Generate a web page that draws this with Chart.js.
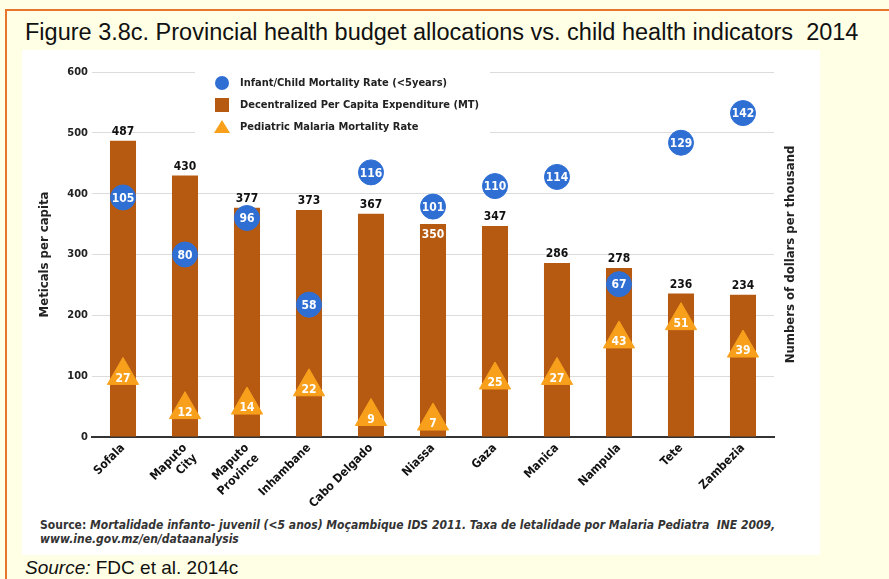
<!DOCTYPE html>
<html>
<head>
<meta charset="utf-8">
<script src="https://cdn.jsdelivr.net/npm/chart.js@4.4.1/dist/chart.umd.min.js"></script>
<style>
  html, body { margin: 0; padding: 0; width: 889px; height: 579px; overflow: hidden; background: #ffffe6; }
  #frame {
    position: absolute; left: 5px; top: 9px; right: -20px; bottom: -20px;
    border-left: 2px solid #e8762a; border-top: 2px solid #e8762a;
    background: #ffffe6;
  }
  #title {
    position: absolute; left: 25px; top: 19px;
    font: 23.5px 'Liberation Sans', Arial, sans-serif; color: #111; white-space: nowrap;
  }
  #panel {
    position: absolute; left: 22px; top: 50px; width: 798px; height: 505px; background: #fff;
  }
  #chart-wrap { position: absolute; left: 0; top: 0; width: 798px; height: 468px; }
  #note {
    position: absolute; left: 18px; top: 468px; width: 780px;
    font: italic bold 12px 'Liberation Sans Narrow', 'DejaVu Sans Condensed', sans-serif;
    color: #333; line-height: 14px; white-space: nowrap;
  }
  #note b { font-style: normal; }
  #source {
    position: absolute; left: 25px; top: 557px;
    font: 19px 'Liberation Sans', Arial, sans-serif; color: #111; white-space: nowrap;
  }
</style>
</head>
<body>
<div id="frame"></div>
<div id="title">Figure 3.8c. Provincial health budget allocations vs. child health indicators&nbsp; 2014</div>
<div id="panel">
  <div id="chart-wrap"><canvas id="chart-area" width="798" height="468"></canvas></div>
  <div id="note"><b>Source:</b> Mortalidade infanto- juvenil (&lt;5 anos) Moçambique IDS 2011. Taxa de letalidade por Malaria Pediatra&nbsp; INE 2009,<br>www.ine.gov.mz/en/dataanalysis</div>
</div>
<div id="source"><i>Source:</i> FDC et al. 2014c</div>

<script>
'use strict';

// provinces, left to right
var provinces = [
  'Sofala', ['Maputo', 'City'], ['Maputo', 'Province'], 'Inhambane', 'Cabo Delgado',
  'Niassa', 'Gaza', 'Manica', 'Nampula', 'Tete', 'Zambezia'
];
// decentralized per capita expenditure (MT)
var spending = [487, 430, 377, 373, 367, 350, 347, 286, 278, 236, 234];
// infant/child mortality rate (<5 years)
var childMortality = [105, 80, 96, 58, 116, 101, 110, 114, 67, 129, 142];
// pediatric malaria mortality rate
var malariaMortality = [27, 12, 14, 22, 9, 7, 25, 27, 43, 51, 39];

var leftTicks = [0, 100, 200, 300, 400, 500, 600];
var rightMax = 160;

var BROWN = '#b65a12';
var BLUE = '#2f6fd4';
var ORANGE = '#f8a01c';
var NARROW = "'Liberation Sans Narrow', 'DejaVu Sans Condensed', sans-serif";

// value labels: above bars, inside circles and triangles
var valueLabels = {
  id: 'valueLabels',
  afterDatasetsDraw: function (chart) {
    var ctx = chart.ctx;
    ctx.save();
    ctx.textAlign = 'center';
    ctx.textBaseline = 'middle';
    ctx.font = 'bold 12px ' + NARROW;
    chart.data.datasets.forEach(function (ds, di) {
      var meta = chart.getDatasetMeta(di);
      meta.data.forEach(function (el, i) {
        var v = ds.data[i];
        if (ds.type === 'bar') {
          if (v === 350) {
            // Niassa's label sits inside the bar, under the mortality dot
            ctx.fillStyle = '#fff';
            ctx.fillText(String(v), el.x, el.y + 11);
          } else {
            ctx.fillStyle = '#111';
            ctx.fillText(String(v), el.x, el.y - 9);
          }
        } else if (ds.pointStyle === 'circle') {
          ctx.fillStyle = '#fff';
          ctx.fillText(String(v), el.x, el.y + 1);
        } else {
          ctx.fillStyle = '#fff';
          ctx.fillText(String(v), el.x, el.y + 3);
        }
      });
    });
    ctx.restore();
  }
};

// legend box drawn inside the plot, plus the right-hand axis title
var innerLegend = {
  id: 'innerLegend',
  afterDraw: function (chart) {
    var ctx = chart.ctx;
    ctx.save();
    ctx.fillStyle = '#fff';
    ctx.fillRect(173, 12, 295, 80);
    var rows = [
      { label: chart.data.datasets[1].label, color: BLUE, shape: 'circle' },
      { label: chart.data.datasets[0].label, color: BROWN, shape: 'square' },
      { label: chart.data.datasets[2].label, color: ORANGE, shape: 'triangle' }
    ];
    ctx.font = 'bold 11px ' + NARROW;
    ctx.textBaseline = 'middle';
    rows.forEach(function (r, i) {
      var cx = 200, cy = 33 + i * 22;
      ctx.fillStyle = r.color;
      ctx.beginPath();
      if (r.shape === 'circle') {
        ctx.arc(cx, cy, 7, 0, Math.PI * 2);
      } else if (r.shape === 'square') {
        ctx.rect(cx - 7, cy - 7, 14, 14);
      } else {
        ctx.moveTo(cx, cy - 7);
        ctx.lineTo(cx + 8, cy + 6);
        ctx.lineTo(cx - 8, cy + 6);
        ctx.closePath();
      }
      ctx.fill();
      ctx.fillStyle = '#222';
      ctx.textAlign = 'left';
      ctx.fillText(r.label, 218, cy);
    });

    var area = chart.chartArea;
    ctx.translate(769, (area.top + area.bottom) / 2);
    ctx.rotate(-Math.PI / 2);
    ctx.textAlign = 'center';
    ctx.font = 'bold 13px ' + NARROW;
    ctx.fillStyle = '#222';
    ctx.fillText('Numbers of dollars per thousand', 0, 0);
    ctx.restore();
  }
};

var config = {
  data: {
    labels: provinces,
    datasets: [{
      type: 'bar',
      label: 'Decentralized Per Capita Expenditure (MT)',
      data: spending,
      backgroundColor: BROWN,
      yAxisID: 'y',
      barPercentage: 0.42,
      categoryPercentage: 1,
      order: 3
    }, {
      type: 'line',
      label: 'Infant/Child Mortality Rate (<5years)',
      data: childMortality,
      showLine: false,
      pointStyle: 'circle',
      pointRadius: 12.5,
      pointHoverRadius: 12.5,
      pointBackgroundColor: BLUE,
      pointBorderColor: BLUE,
      yAxisID: 'y2',
      order: 1
    }, {
      type: 'line',
      label: 'Pediatric Malaria Mortality Rate',
      data: malariaMortality,
      showLine: false,
      pointStyle: 'triangle',
      pointRadius: 18,
      pointHoverRadius: 18,
      pointBackgroundColor: ORANGE,
      pointBorderColor: ORANGE,
      yAxisID: 'y2',
      order: 2
    }]
  },
  options: {
    responsive: false,
    animation: false,
    layout: { padding: { top: 22, right: 0, left: 0, bottom: 0 } },
    plugins: {
      legend: { display: false },
      tooltip: { enabled: false }
    },
    scales: {
      x: {
        grid: { display: false, drawTicks: false },
        border: { color: '#333', width: 2 },
        ticks: {
          maxRotation: 45, minRotation: 45, padding: 4,
          color: '#111', font: { family: NARROW, weight: 'bold', size: 12 }
        },
        afterFit: function (s) { s.height = 81; }
      },
      y: {
        position: 'left',
        min: 0, max: 600,
        afterBuildTicks: function (s) { s.ticks = leftTicks.map(function (v) { return { value: v }; }); },
        grid: { color: '#dcdcdc', drawTicks: false },
        border: { display: false },
        ticks: { padding: 4, color: '#222', font: { family: NARROW, weight: 'bold', size: 11 } },
        title: {
          display: true, text: 'Meticals per capita', color: '#222',
          font: { family: NARROW, weight: 'bold', size: 13 },
          padding: { top: 15, bottom: 0 }
        },
        afterFit: function (s) { s.width = 70; }
      },
      y2: {
        position: 'right',
        min: 0, max: rightMax,
        grid: { display: false, drawTicks: false },
        border: { display: false },
        ticks: { display: false },
        afterFit: function (s) { s.width = 46; }
      }
    }
  },
  plugins: [valueLabels, innerLegend]
};

var chart = document.querySelector('#chart-area');
window.myChart = new Chart(chart, config);
</script>
</body>
</html>
